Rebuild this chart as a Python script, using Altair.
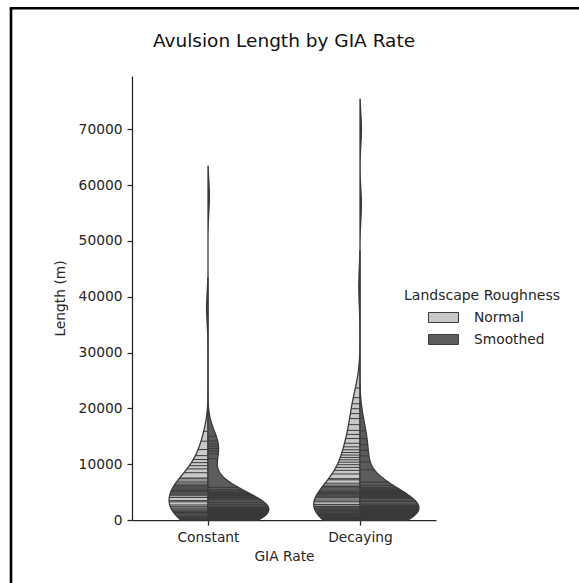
import json
import numpy as np
import pandas as pd
import altair as alt

# ---------------- data (read/estimated from the reference) ----------------
gia_rates = ["Constant", "Decaying"]
roughness = ["Normal", "Smoothed"]

constant_normal = [60, 150, 240, 330, 440, 610, 770, 910, 1060, 1200, 1340, 1490, 1630,
                   1790, 1960, 2150, 2390, 2690, 3250, 3480, 4040, 4350, 4590, 4790, 4960,
                   5120, 5280, 5430, 5570, 5720, 5880, 6040, 6210, 6410, 6650, 6960, 7370,
                   7520, 8470, 9160, 9730, 10280, 10840, 11530, 12630, 14120, 15880, 38000]

constant_smoothed = [120, 180, 260, 340, 410, 470, 530, 600, 660, 730, 790, 850, 910, 960,
                     1020, 1070, 1120, 1170, 1230, 1280, 1330, 1380, 1440, 1490, 1550, 1610,
                     1670, 1730, 1800, 1880, 1960, 2050, 2170, 2300, 2480, 2830, 3160, 3580,
                     3820, 4000, 4160, 4300, 4430, 4570, 4700, 4840, 5000, 5180, 5420, 5840,
                     11000, 11840, 12360, 12790, 13210, 13640, 14160, 15000, 58000]

decaying_normal = [60, 120, 180, 230, 290, 340, 400, 450, 520, 610, 700, 800, 890, 990, 1080,
                   1180, 1280, 1390, 1490, 1600, 1730, 1870, 2030, 2220, 2410, 2710, 3260,
                   2800, 3410, 3750, 4010, 4230, 4420, 4590, 4760, 4920, 5080, 5240, 5410,
                   5580, 5770, 5990, 6250, 6590, 7200, 5940, 7410, 8250, 8890, 9420, 9910,
                   10360, 10790, 11210, 11640, 12090, 12580, 13110, 13750, 14590, 16060,
                   15340, 17080, 18170, 19070, 19940, 20830, 21920, 23660, 41800]

decaying_smoothed = [40, 90, 130, 170, 220, 260, 310, 400, 480, 560, 630, 710, 780, 860, 930,
                     1000, 1070, 1140, 1220, 1290, 1370, 1440, 1520, 1610, 1690, 1780, 1880,
                     1990, 2100, 2240, 2390, 2580, 2850, 3340, 3400, 3800, 4020, 4190, 4330,
                     4460, 4580, 4690, 4800, 4910, 5020, 5140, 5270, 5410, 5580, 5800, 6200,
                     6780, 9010, 10380, 11490, 12500, 13510, 14620, 15990, 18220, 56500, 70000]

# kernel bandwidth (m) of each half-violin
bandwidth_m = {"Constant|Normal": 2700, "Constant|Smoothed": 2700,
               "Decaying|Normal": 3200, "Decaying|Smoothed": 2700}

y_ticks = [0, 10000, 20000, 30000, 40000, 50000, 60000, 70000]

samples = {
    ("Constant", "Normal"): constant_normal,
    ("Constant", "Smoothed"): constant_smoothed,
    ("Decaying", "Normal"): decaying_normal,
    ("Decaying", "Smoothed"): decaying_smoothed,
}


# ---------------- kernel density (gaussian, count scaled) ----------------
def kde(values, h, at):
    v = np.asarray(values, dtype=float)
    z = (np.asarray(at, dtype=float)[:, None] - v[None, :]) / h
    return np.exp(-0.5 * z * z).sum(axis=1) / (h * np.sqrt(2 * np.pi))


curves = {}
for (g, r), vals in samples.items():
    h = bandwidth_m[f"{g}|{r}"]
    svals = np.sort(np.asarray(vals, dtype=float))
    grid = np.linspace(0, svals.max() + 2 * h, 600)
    curves[(g, r)] = (grid, kde(svals, h, grid), svals, kde(svals, h, svals))

gmax = max(c[1].max() for c in curves.values())

outline_rows, stick_rows = [], []
for (g, r), (grid, dens, svals, sdens) in curves.items():
    for y, d in zip(grid, dens):
        outline_rows.append({"gia": g, "rough": r, "length": float(y), "width": float(0.4 * d / gmax)})
    for y, d in zip(svals, sdens):
        stick_rows.append({"gia": g, "rough": r, "length": float(y), "width": float(0.4 * d / gmax)})

outline_df = pd.DataFrame(outline_rows)
stick_df = pd.DataFrame(stick_rows)

# ---------------- styling ----------------
FONT = "DejaVu Sans"
TEXT = "#262626"
EDGE = "#3a3a3a"
FILLS = ["#c8c8c8", "#5c5c5c"]

center_expr = f"indexof({json.dumps(gia_rates)}, datum.gia)"
edge_expr = f"datum.center + (datum.rough === {json.dumps(roughness[0])} ? -1 : 1) * datum.width"
label_expr = f"{json.dumps(gia_rates)}[datum.value]"

x_scale = alt.Scale(domain=[-0.5, 1.5], nice=False, zero=False)
y_scale = alt.Scale(domain=[0, 79560], nice=False, zero=True)

violins = (
    alt.Chart(outline_df)
    .transform_calculate(center=center_expr)
    .transform_calculate(edge=edge_expr)
    .mark_area(orient="horizontal", stroke=EDGE, strokeWidth=1.3, strokeJoin="round")
    .encode(
        y=alt.Y("length:Q", scale=y_scale,
                axis=alt.Axis(values=y_ticks, format="d", title="Length (m)", titlePadding=11)),
        x=alt.X("edge:Q", scale=x_scale,
                axis=alt.Axis(values=[0, 1], labelExpr=label_expr, title="GIA Rate",
                              titlePadding=6, labelAngle=0)),
        x2="center:Q",
        fill=alt.Fill("rough:N",
                      scale=alt.Scale(domain=roughness, range=FILLS),
                      legend=alt.Legend(
                          title="Landscape Roughness", orient="none",
                          legendX=272, legendY=213, padding=0,
                          symbolType="M-1.5,-0.5H1.5V0.5H-1.5Z", symbolSize=400,
                          symbolStrokeColor=EDGE, symbolStrokeWidth=1,
                          symbolOffset=29, labelOffset=20, rowPadding=4, titlePadding=4,
                          titleFont=FONT, titleFontSize=14, titleFontWeight="normal",
                          titleColor=TEXT, labelFont=FONT, labelFontSize=13.8,
                          labelColor=TEXT)),
        detail="gia:N",
    )
)

sticks = (
    alt.Chart(stick_df)
    .transform_calculate(center=center_expr)
    .transform_calculate(edge=edge_expr)
    .mark_rule(color=EDGE, strokeWidth=1.0, opacity=1.0)
    .encode(y=alt.Y("length:Q", scale=y_scale), x=alt.X("center:Q", scale=x_scale), x2="edge:Q")
)

frame_df = pd.DataFrame({"k": [0]})
frame_left = alt.Chart(frame_df).mark_rule(color="black", strokeWidth=2.6).encode(
    x=alt.value(-121), y=alt.value(-67.7), y2=alt.value(520))
frame_top = alt.Chart(frame_df).mark_rule(color="black", strokeWidth=2.6).encode(
    x=alt.value(-122.3), x2=alt.value(460), y=alt.value(-67.7))

chart = (
    alt.layer(violins, sticks, frame_left, frame_top)
    .properties(
        width=304, height=444,
        padding={"left": 132, "top": 76, "right": 143, "bottom": 63},
        autosize=alt.AutoSizeParams(type="none"),
        title=alt.TitleParams("Avulsion Length by GIA Rate", font=FONT, fontSize=18.5,
                              fontWeight="normal", color="#111111", anchor="middle",
                              offset=0, dy=43),
    )
    .configure_view(stroke=None)
    .configure_axis(
        grid=False, domainColor=TEXT, domainWidth=1.25, tickColor=TEXT, tickWidth=1.25,
        tickSize=5, labelPadding=5, labelFont=FONT, labelFontSize=13.8, labelColor=TEXT,
        titleFont=FONT, titleFontSize=13.8, titleFontWeight="normal", titleColor=TEXT,
    )
)

chart.save("out.html", embed_options={"renderer": "svg", "actions": False})
